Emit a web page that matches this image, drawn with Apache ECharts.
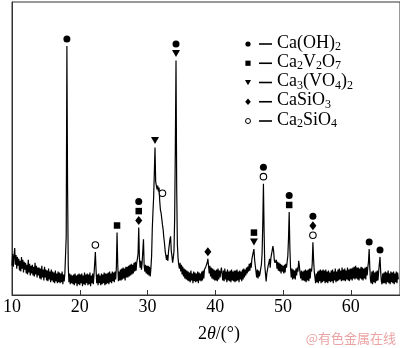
<!DOCTYPE html>
<html>
<head>
<meta charset="utf-8">
<script src="https://cdn.jsdelivr.net/npm/echarts@6/dist/echarts.min.js"></script>
<style>
  html, body { margin: 0; padding: 0; background: #fff; }
  #chart { width: 400px; height: 348px; }
</style>
</head>
<body>
<div id="chart"></div>
<script>
// XRD pattern: intensity (a.u.) sampled every 0.1° of 2θ, starting at 10°
const twoThetaStart = 10;
const twoThetaStep = 0.1;
const intensity = [
  // 10
  30,42,29,40,48,31,41,27,39,30,
  37,25,35,24,39,27,36,23,34,26,
  33,22,31,21,36,23,32,20,30,22,
  31,20,29,19,33,21,30,18,28,20,
  28,17,27,16,30,18,26,15,29,18,
  26,15,25,14,27,16,24,13,26,15,
  24,13,23,12,25,14,22,12,24,13,
  23,12,22,13,24,11,21,14,22,24,
  60,255,110,30,13,22,11,21,12,20,
  11,21,10,22,12,20,9,21,11,22,
  // 20
  10,21,12,22,9,20,11,23,10,21,
  12,22,10,21,11,23,9,20,12,22,
  11,21,22,44,26,12,21,10,22,12,
  20,10,22,11,21,12,23,10,22,11,
  22,12,23,11,24,13,22,12,24,14,
  23,13,24,16,28,64,32,14,24,15,
  26,15,27,16,28,17,27,15,29,18,
  29,18,30,19,31,20,32,21,31,22,
  33,24,34,25,33,37,42,69,38,28,
  35,26,33,34,57,30,24,31,22,30,
  // 30
  21,30,20,29,19,28,40,68,85,100,
  125,151,116,112,108,112,106,110,96,87,
  84,86,72,67,59,53,45,44,36,41,
  35,45,47,57,60,45,40,33,38,45,
  78,150,240,110,52,38,31,27,33,24,
  31,21,29,19,27,17,26,16,25,15,
  24,14,23,13,25,15,22,12,24,14,
  23,13,22,14,24,12,23,15,22,14,
  24,15,25,17,26,24,29,30,33,37,
  30,22,30,19,28,17,27,16,26,15,
  // 40
  25,15,26,14,27,16,25,18,24,28,
  26,15,25,14,27,16,24,13,26,15,
  24,14,25,13,26,15,24,14,25,13,
  25,14,26,15,24,13,25,16,24,14,
  26,16,27,18,26,20,28,22,29,24,
  32,25,33,28,37,38,44,47,36,30,
  28,18,26,17,25,19,22,27,31,42,
  72,114,64,30,22,14,22,21,30,33,
  37,28,38,40,46,50,45,36,33,34,
  36,27,34,25,33,24,32,22,31,24,
  // 50
  30,22,31,23,32,28,34,40,58,85,
  48,28,18,27,16,26,17,25,16,27,
  20,28,24,35,30,22,17,25,15,24,
  15,25,14,26,13,25,15,26,14,27,
  17,27,24,32,54,36,24,18,12,22,
  13,24,12,25,14,26,12,25,13,26,
  14,25,12,26,13,24,12,25,14,23,
  13,25,14,26,12,24,15,27,13,24,
  14,26,15,27,16,25,14,28,15,26,
  15,27,14,25,16,28,15,26,14,27,
  // 60
  16,27,15,28,17,29,16,30,17,28,
  16,28,15,27,17,29,16,28,15,27,
  17,28,16,29,20,28,34,47,27,15,
  12,24,11,25,13,23,12,24,14,25,
  15,24,25,39,24,14,11,22,12,23,
  12,24,11,23,13,25,12,22,11,24,
  13,23,12,24,11,22,13,24,12,23,
  16
];

// Identified phases
const phaseNames = ['Ca(OH)2', 'Ca2V2O7', 'Ca3(VO4)2', 'CaSiO3', 'Ca2SiO4'];

// Indexed reflections: position (2θ), intensity at the mark's anchor, phases listed upward
const peakPositions = [18.1, 22.3, 25.5, 28.7, 31.1, 32.2, 34.2, 38.9, 45.7, 47.1, 50.9, 54.4, 62.7, 64.3];
const peakTops      = [255,  44,   64,   69,   151,  97,   240,  37,   47,   114,  85,   54,   47,   39];
const peakPhases    = [[0], [4], [1], [3, 1, 0], [2], [4], [2, 0], [3], [2, 1], [4, 0], [1, 0], [4, 3, 0], [0], [0]];

// X-axis ticks
const xMin = 10, xMax = 67.25, xTickStep = 10;

const SERIF = '"Liberation Serif", "Times New Roman", serif';

const phaseSymbols = [
  { symbol: 'circle',   size: 7,      rotate: 0,   color: '#000', border: null },
  { symbol: 'rect',     size: 6.5,    rotate: 0,   color: '#000', border: null },
  { symbol: 'triangle', size: [8, 7], rotate: 180, color: '#000', border: null },
  { symbol: 'diamond',  size: [7, 9], rotate: 0,   color: '#000', border: null },
  { symbol: 'circle',   size: 6.5,    rotate: 0,   color: '#fff', border: '#000' }
];

const trace = intensity.map((v, i) => [+(twoThetaStart + i * twoThetaStep).toFixed(2), v]);

// one scatter series per phase, marks stacked above each reflection
const markerSeries = phaseNames.map((name, p) => {
  const sym = phaseSymbols[p];
  const items = [];
  peakPositions.forEach((pos, j) => {
    const k = peakPhases[j].indexOf(p);
    if (k >= 0) {
      items.push({ value: [pos, peakTops[j]], symbolOffset: [0, -(7 + k * 9.5)] });
    }
  });
  return {
    name: name,
    type: 'scatter',
    data: items,
    symbol: sym.symbol,
    symbolSize: sym.size,
    symbolRotate: sym.rotate,
    clip: false,
    z: 5,
    itemStyle: {
      color: sym.color,
      borderColor: sym.border || sym.color,
      borderWidth: sym.border ? 1.1 : 0,
      opacity: 1
    },
    emphasis: { disabled: true }
  };
});

// chemical formula as rich text with subscript digits
function formulaRich(f) {
  return f.replace(/([A-Za-z()]+)|(\d+)/g, (m, a, d) => a ? '{n|' + a + '}' : '{s|' + d + '}');
}
const formulaStyles = {
  n: { fontFamily: SERIF, fontSize: 18, lineHeight: 20, verticalAlign: 'middle', fill: '#000' },
  s: { fontFamily: SERIF, fontSize: 12, lineHeight: 10, verticalAlign: 'bottom', fill: '#000' }
};

// legend block (marker, dash, formula)
const legendX = 248, legendY = 44, legendRowGap = 19.25;
const legendGraphics = [];
phaseNames.forEach((name, p) => {
  const cy = legendY + p * legendRowGap;
  let shape;
  if (p === 0) shape = { type: 'circle', shape: { cx: legendX, cy: cy, r: 2.6 }, style: { fill: '#000' } };
  else if (p === 1) shape = { type: 'rect', shape: { x: legendX - 2.6, y: cy - 2.6, width: 5.2, height: 5.2 }, style: { fill: '#000' } };
  else if (p === 2) shape = { type: 'polygon', shape: { points: [[legendX - 3, cy - 2.4], [legendX + 3, cy - 2.4], [legendX, cy + 2.8]] }, style: { fill: '#000' } };
  else if (p === 3) shape = { type: 'polygon', shape: { points: [[legendX, cy - 3.2], [legendX + 2.8, cy], [legendX, cy + 3.2], [legendX - 2.8, cy]] }, style: { fill: '#000' } };
  else shape = { type: 'circle', shape: { cx: legendX, cy: cy, r: 2.5 }, style: { fill: '#fff', stroke: '#000', lineWidth: 1 } };
  legendGraphics.push(shape);
  legendGraphics.push({
    type: 'line',
    shape: { x1: legendX + 11, y1: cy, x2: legendX + 24, y2: cy },
    style: { stroke: '#000', lineWidth: 1.6 }
  });
  legendGraphics.push({
    type: 'text',
    x: legendX + 29,
    y: cy - 1,
    style: {
      text: formulaRich(name),
      rich: formulaStyles,
      verticalAlign: 'middle',
      align: 'left'
    }
  });
});

// source mark
legendGraphics.push({
  type: 'text',
  x: 396,
  y: 338,
  style: {
    text: '@有色金属在线',
    fontFamily: '"Noto Sans CJK SC", sans-serif',
    fontSize: 13,
    fill: '#eba4a4',
    align: 'right',
    verticalAlign: 'middle'
  }
});

const chart = echarts.init(document.getElementById('chart'), null, { renderer: 'canvas' });
chart.setOption({
  animation: false,
  backgroundColor: '#fff',
  grid: {
    left: 7, right: -2, top: 2, bottom: 46,
    show: true, borderColor: '#333', borderWidth: 1, backgroundColor: 'transparent'
  },
  xAxis: {
    type: 'value',
    min: xMin, max: xMax, interval: xTickStep,
    axisLine: { show: true, lineStyle: { color: '#333', width: 1 } },
    axisTick: { show: true, inside: true, length: 5, lineStyle: { color: '#333', width: 1 } },
    axisLabel: {
      fontFamily: SERIF, fontSize: 18, color: '#000', margin: 3,
      showMaxLabel: false
    },
    splitLine: { show: false },
    name: '{n|2}{i|θ}{n|/(°)}',
    nameLocation: 'middle',
    nameGap: 30,
    nameTextStyle: {
      padding: [0, 0, 0, 26],
      rich: {
        n: { fontFamily: SERIF, fontSize: 18, color: '#000' },
        i: { fontFamily: SERIF, fontSize: 18, fontStyle: 'italic', color: '#000' }
      }
    }
  },
  yAxis: {
    type: 'value',
    min: 0, max: 300,
    axisLine: { show: true, lineStyle: { color: '#333', width: 1 } },
    axisTick: { show: false },
    axisLabel: { show: false },
    splitLine: { show: false }
  },
  series: [
    {
      name: 'XRD',
      type: 'line',
      data: trace,
      showSymbol: false,
      symbol: 'none',
      lineStyle: { color: '#000', width: 1.2 },
      z: 3,
      emphasis: { disabled: true }
    }
  ].concat(markerSeries),
  graphic: legendGraphics
});
</script>
</body>
</html>
